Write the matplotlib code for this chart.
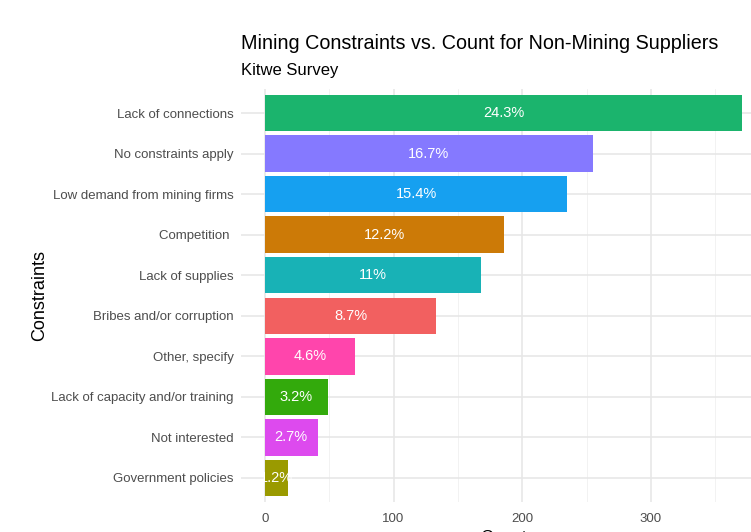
import matplotlib.pyplot as plt

plt.rcParams["font.family"] = ["Liberation Sans", "DejaVu Sans"]

constraints = [
    "Lack of connections",
    "No constraints apply",
    "Low demand from mining firms",
    "Competition ",
    "Lack of supplies",
    "Bribes and/or corruption",
    "Other, specify",
    "Lack of capacity and/or training",
    "Not interested",
    "Government policies",
]
counts = [371, 255, 235, 186, 168, 133, 70, 49, 41, 18]
pct_labels = ["24.3%", "16.7%", "15.4%", "12.2%", "11%", "8.7%", "4.6%", "3.2%", "2.7%", "1.2%"]
colors = ["#1BB46D", "#8579FF", "#16A0F0", "#CC7A07", "#18B2B6",
          "#F26060", "#FF45AC", "#33AA0C", "#DD4AEE", "#9A9A00"]

fig = plt.figure(figsize=(7.51, 5.32), dpi=100)
# panel runs off the right and bottom edge, like the cropped original
ax = fig.add_axes([0.321, 0.0558, 0.699, 0.7775])

n = len(constraints)
ypos = list(range(n - 1, -1, -1))
ax.barh(ypos, counts, height=0.9, color=colors, zorder=2)
for y, c, lab in zip(ypos, counts, pct_labels):
    ax.text(c / 2, y, lab, color="white", ha="center", va="center", fontsize=10.5, zorder=3)

xmax = max(counts)
ax.set_xlim(-0.05 * xmax, 1.05 * xmax)
ax.set_ylim(-0.6, n - 0.4)
ax.set_yticks(ypos)
ax.set_yticklabels(constraints)
ax.set_xticks([0, 100, 200, 300])
ax.set_xticks([50, 150, 250, 350], minor=True)
ax.grid(True, which="major", color="#e6e6e6", lw=1.1, zorder=0)
ax.grid(True, which="minor", axis="x", color="#f0f0f0", lw=0.6, zorder=0)
ax.tick_params(which="both", length=0, labelsize=9.5, labelcolor="#4d4d4d")
ax.tick_params(axis="y", pad=5.5)
ax.tick_params(axis="x", pad=7.5)
for s in ax.spines.values():
    s.set_visible(False)

ax.set_ylabel("Constraints", fontsize=13, labelpad=2)
ax.set_xlabel("Count", fontsize=12.5, labelpad=4)

fig.text(0.321, 0.919, "Mining Constraints vs. Count for Non-Mining Suppliers",
         fontsize=14.2, ha="left", va="center")
fig.text(0.321, 0.868, "Kitwe Survey", fontsize=12, ha="left", va="center")

fig.savefig("out.png", dpi=100)
